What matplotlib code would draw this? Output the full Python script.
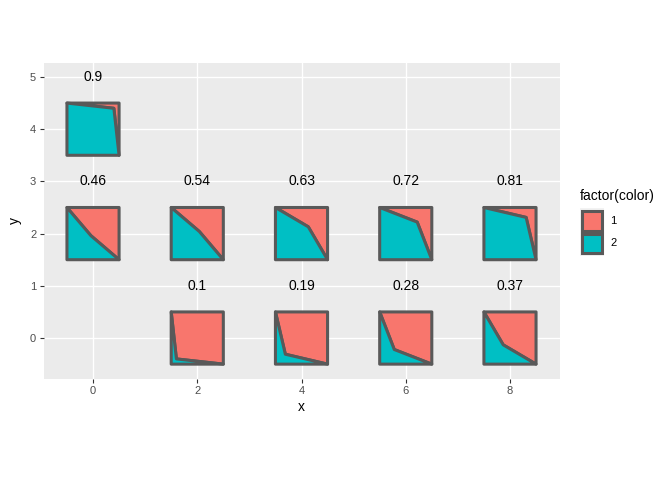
import matplotlib
matplotlib.use("Agg")
import matplotlib.pyplot as plt
from matplotlib.patches import Polygon, Rectangle

plt.rcParams["font.family"] = ["Liberation Sans", "DejaVu Sans"]

# ---- data ----
cx = [2, 4, 6, 8, 0, 2, 4, 6, 8, 0]
cy = [0, 0, 0, 0, 2, 2, 2, 2, 2, 4]
values = [0.1, 0.19, 0.28, 0.37, 0.46, 0.54, 0.63, 0.72, 0.81, 0.9]
bend_dx = [-0.40, -0.31, -0.22, -0.13, -0.04, 0.04, 0.13, 0.22, 0.31, 0.40]
bend_dy = [-0.40, -0.31, -0.22, -0.13, -0.04, 0.04, 0.13, 0.22, 0.31, 0.40]
x_ticks = [0, 2, 4, 6, 8]
y_ticks = [0, 1, 2, 3, 4, 5]
legend_labels = ["1", "2"]
colors = ["#F8766D", "#00BFC4"]

EDGE = "#595959"
LW = 2.2
W, H = 672, 480
BIG = 10.0
SMALL = 8.0

fig = plt.figure(figsize=(W / 100, H / 100), dpi=100)
fig.patch.set_facecolor("white")

left, right, top, bottom = 43.5, 559.5, 62.6, 378.5
ax = fig.add_axes([left / W, 1 - bottom / H, (right - left) / W, (bottom - top) / H])
ax.set_facecolor("#EBEBEB")
ax.set_xlim(-0.95, 8.95)
ax.set_ylim(-0.775, 5.275)
for s in ax.spines.values():
    s.set_visible(False)
ax.set_xticks(x_ticks)
ax.set_yticks(y_ticks)
ax.grid(True, color="white", linewidth=1.0)
ax.set_axisbelow(True)
ax.tick_params(length=2.75, width=0.8, color="#333333", labelcolor="#4D4D4D",
               labelsize=SMALL, pad=2.5)
ax.set_xlabel("x", fontsize=BIG, labelpad=3)
ax.set_ylabel("y", fontsize=BIG, labelpad=6)

for x, y, v, dx, dy in zip(cx, cy, values, bend_dx, bend_dy):
    tl = (x - 0.5, y + 0.5)
    tr = (x + 0.5, y + 0.5)
    br = (x + 0.5, y - 0.5)
    bl = (x - 0.5, y - 0.5)
    bend = (x + dx, y + dy)
    red = Polygon([tl, tr, br, bend], closed=True, facecolor=colors[0],
                  edgecolor=EDGE, linewidth=LW, joinstyle="round", zorder=3)
    teal = Polygon([tl, bend, br, bl], closed=True, facecolor=colors[1],
                   edgecolor=EDGE, linewidth=LW, joinstyle="round", zorder=3)
    ax.add_patch(red)
    ax.add_patch(teal)
    ax.text(x, y + 1, f"{v:g}", ha="center", va="center", fontsize=BIG,
            color="black", zorder=4)

# ---- legend ----
def fx(px):
    return px / W

def fy(py):
    return 1 - py / H

fig.text(fx(580), fy(196), "factor(color)", ha="left", va="center", fontsize=BIG)
for i, (lab, col) in enumerate(zip(legend_labels, colors)):
    top_px = 209 + 23 * i
    fig.patches.append(Rectangle((fx(579.5), fy(top_px + 23.5)), 24 / W, 24 / H,
                                 transform=fig.transFigure, facecolor="#F2F2F2",
                                 edgecolor="none", zorder=1))
    fig.patches.append(Rectangle((fx(581.5), fy(top_px + 21.5)), 20 / W, 20 / H,
                                 transform=fig.transFigure, facecolor=col,
                                 edgecolor=EDGE, linewidth=LW, zorder=2))
    fig.text(fx(610), fy(top_px + 11.5), lab, ha="left", va="center",
             fontsize=SMALL)

fig.savefig("out.png", dpi=100)
